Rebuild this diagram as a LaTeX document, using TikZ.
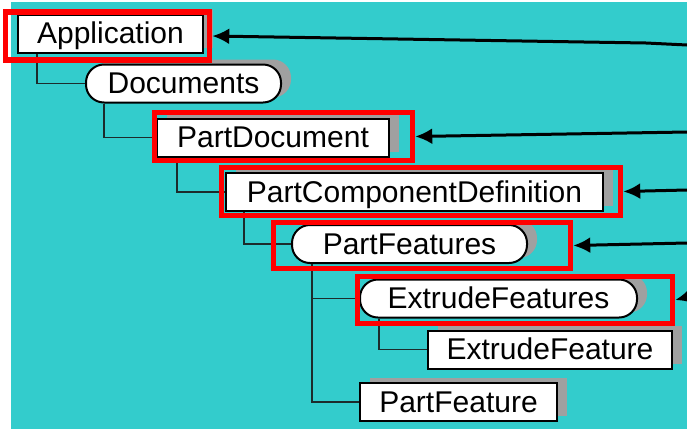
\documentclass[tikz,border=0pt]{standalone}
\usepackage{fontspec}
\setmainfont{Liberation Sans}
\usetikzlibrary{arrows.meta,shadows}
\definecolor{objTeal}{HTML}{33CCCC}
\definecolor{objRed}{HTML}{FF0000}
\definecolor{objShade}{HTML}{A0A0A0}
\definecolor{objLine}{HTML}{1C2B2B}

\begin{document}
\begin{tikzpicture}[x=1pt,y=-1pt,>=Latex]
\useasboundingbox (0,0) rectangle (687,429);
\path[fill=white] (0,0) rectangle (687,429);
\path[fill=objTeal] (11,2) rectangle (687,429);
\tikzset{obj/.style={draw=black,fill=white,line width=2pt,inner sep=0pt,minimum height=38pt,text height=21pt,text depth=1pt,font=\fontsize{30}{34}\selectfont,drop shadow={shadow xshift=10pt,shadow yshift=5pt,fill=objShade,opacity=1}},coll/.style={obj,rounded corners=18pt},hilite/.style={draw=objRed,line width=5.5pt,inner sep=0pt},tree/.style={draw=objLine,line width=1.1pt},ref/.style={draw=black,line width=3pt,-{Latex[length=17pt,width=16pt]}}}
% object model boxes
\node[obj,minimum width=185pt] (app) at (110.5,33.5) {Application};
\node[coll,minimum width=195pt] (docs) at (183.5,83.5) {Documents};
\node[obj,minimum width=232pt] (pdoc) at (273,137.5) {PartDocument};
\node[obj,minimum width=377pt] (pcd) at (414.5,192) {PartComponentDefinition};
\node[coll,minimum width=235pt] (pfs) at (409.5,244) {PartFeatures};
\node[coll,minimum width=277pt] (efs) at (498.5,298.5) {ExtrudeFeatures};
\node[obj,minimum width=244pt] (ef) at (550,349.5) {ExtrudeFeature};
\node[obj,minimum width=197pt] (pf) at (458.5,402) {PartFeature};
% hierarchy lines
\draw[tree] ([xshift=20pt]app.south west) |- (docs.west);
\draw[tree] ([xshift=19pt]docs.south west) |- (pdoc.west);
\draw[tree] ([xshift=21pt]pdoc.south west) |- (pcd.west);
\draw[tree] ([xshift=19pt]pcd.south west) |- (pfs.west);
\draw[tree] ([xshift=21pt]pfs.south west) |- (efs.west);
\draw[tree] ([xshift=21pt]pfs.south west) |- (pf.west);
\draw[tree] ([xshift=20pt]efs.south west) |- (ef.west);
% red frames
\node[hilite,minimum width=204pt,minimum height=48pt] (hlApp) at (107.5,36) {};
\node[hilite,minimum width=258pt,minimum height=48pt] (hlPdoc) at (283.5,136.5) {};
\node[hilite,minimum width=399pt,minimum height=48pt] (hlPcd) at (421,191.5) {};
\node[hilite,minimum width=297pt,minimum height=46pt] (hlPfs) at (422,245.5) {};
\node[hilite,minimum width=315pt,minimum height=47pt] (hlEfs) at (515,300) {};
% incoming references
\coordinate (inApp) at (687,45);
\coordinate (inPdoc) at (687,132);
\coordinate (inPcd) at (687,190);
\coordinate (inPfs) at (687,243);
\coordinate (inEfs) at (687,297);
\draw[ref] (inApp) -- (646,43) -- (hlApp.east);
\draw[ref] (inPdoc) -- (hlPdoc.east);
\draw[ref] (inPcd) -- (hlPcd.east);
\draw[ref] (inPfs) -- (hlPfs.east);
\draw[ref] (inEfs) -- (hlEfs.east);
\end{tikzpicture}
\end{document}
